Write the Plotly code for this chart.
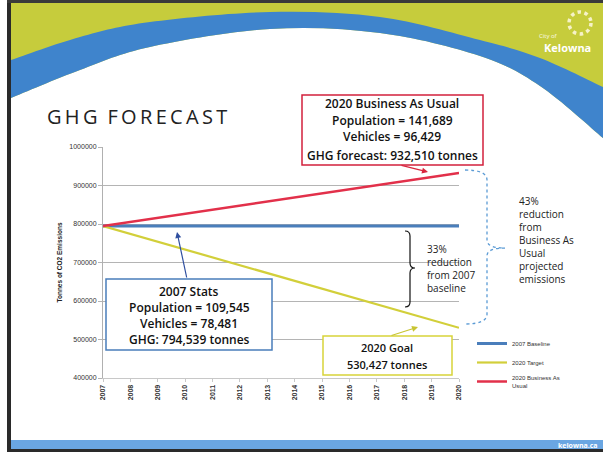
import re
import plotly.graph_objects as go

# ---------------- data ----------------
tick_years = [2007, 2008, 2009, 2010, 2011, 2012, 2013, 2014, 2015, 2016, 2017, 2018, 2019, 2020]
y_ticks = [400000, 500000, 600000, 700000, 800000, 900000, 1000000]
line_years = [2007, 2020]
baseline = [794539, 794539]
target = [794539, 530427]
bau = [794539, 932510]
series_names = ["2007 Baseline", "2020 Target", "2020 Business As<br>Usual"]
series_colors = ["#4a7ebb", "#d2cf3a", "#e2304a"]

bau_box = ["2020 Business As Usual", "Population = 141,689", "Vehicles = 96,429",
           "GHG forecast: 932,510 tonnes"]
stats_box = ["2007 Stats", "Population = 109,545", "Vehicles = 78,481", "GHG: 794,539 tonnes"]
goal_box = ["2020 Goal", "530,427 tonnes"]
brace33 = "33%<br>reduction<br>from 2007<br>baseline"
brace43 = "43%<br>reduction<br>from<br>Business As<br>Usual<br>projected<br>emissions"

# ---------------- geometry helpers ----------------
W_IMG, H_IMG = 603, 452
ML, MR, MT, MB = 103, 144, 147, 74
PW = W_IMG - ML - MR
PH = H_IMG - MT - MB


def px(x):
    return (x - ML) / PW


def py(y):
    return (H_IMG - MB - y) / PH


def conv(path):
    return re.sub(r'(-?\d+\.?\d*),(-?\d+\.?\d*)',
                  lambda m: f"{px(float(m[1])):.5f},{py(float(m[2])):.5f}", path)


def spline(pts, start=True):
    s = f"M {pts[0][0]},{pts[0][1]} " if start else f"L {pts[0][0]},{pts[0][1]} "
    n = len(pts)
    for i in range(n - 1):
        p0 = pts[i - 1] if i > 0 else pts[i]
        p1 = pts[i]
        p2 = pts[i + 1]
        p3 = pts[i + 2] if i + 2 < n else pts[i + 1]
        c1 = (p1[0] + (p2[0] - p0[0]) / 6, p1[1] + (p2[1] - p0[1]) / 6)
        c2 = (p2[0] - (p3[0] - p1[0]) / 6, p2[1] - (p3[1] - p1[1]) / 6)
        s += f"C {c1[0]:.2f},{c1[1]:.2f} {c2[0]:.2f},{c2[1]:.2f} {p2[0]},{p2[1]} "
    return s


def rect(x0, y0, x1, y1, fill, line_color=None, lw=0, layer="below"):
    return dict(type="rect", xref="paper", yref="paper", x0=px(x0), x1=px(x1),
                y0=py(y1), y1=py(y0), fillcolor=fill, layer=layer,
                line=dict(color=line_color or fill, width=lw))


def txt(x, y, s, size, color="#111", xanchor="center", align="center",
        weight="normal", family="Open Sans"):
    return dict(x=px(x), y=py(y), xref="paper", yref="paper", text=s, showarrow=False,
                xanchor=xanchor, yanchor="middle", align=align,
                font=dict(size=size, color=color, family=family, weight=weight))


def arrow(hx, hy, tx, ty, color, width=1.2):
    return dict(x=px(hx), y=py(hy), xref="paper", yref="paper", text="",
                showarrow=True, ax=tx - hx, ay=ty - hy, axref="pixel", ayref="pixel",
                arrowhead=2, arrowsize=1, arrowwidth=width, arrowcolor=color)


# ---------------- figure ----------------
fig = go.Figure()
for name, ys, col, w in zip(series_names, [baseline, target, bau], series_colors, [3, 2.2, 2.5]):
    fig.add_trace(go.Scatter(x=line_years, y=ys, mode="lines", name=name,
                             legendgroup=name, line=dict(color=col, width=w)))

upper = [(11, 60), (80, 37), (150, 22), (270, 12), (380, 17), (480, 40), (540, 58), (603, 87)]
lower = [(11, 98), (80, 70), (150, 47), (270, 29), (380, 33), (480, 56), (540, 86), (603, 138)]

band_path = spline(upper) + spline(lower[::-1], start=False) + "Z"
white_path = spline(lower) + "L 603,146 L 11,146 Z"

shapes = [
    rect(11, 3, 603, 146, "#c6cc3c"),
    dict(type="path", xref="paper", yref="paper", path=conv(white_path),
         fillcolor="white", line=dict(width=0), layer="below"),
    dict(type="path", xref="paper", yref="paper", path=conv(band_path),
         fillcolor="#3f84cc", line=dict(width=0), layer="below"),
    rect(7, 0, 11, 452, "#2a2a2a"),
    rect(7, 0, 603, 3, "#3a3a3a"),
    rect(11, 440, 603, 449, "#6aa6e2"),
    rect(7, 449, 603, 452, "#2a2a2a"),
    # logo ring
    dict(type="circle", xref="paper", yref="paper", x0=px(569), x1=px(591),
         y0=py(34), y1=py(12), line=dict(color="#f6f2c8", width=3.5, dash="dot"),
         layer="below"),
    # boxes
    rect(302, 95, 483, 165, "white", "#d2203c", 1.5, "above"),
    rect(106, 279, 272, 350, "white", "#4a7ebb", 1.5, "above"),
    rect(323, 336, 452, 375, "white", "#d8d43a", 1.5, "above"),
    # black brace (33%)
    dict(type="path", xref="paper", yref="paper", layer="above",
         path=conv("M 405,231 Q 410,231 410,236 L 410,263 Q 410,268 415,268 "
                   "Q 410,268 410,273 L 410,302 Q 410,307 405,307"),
         line=dict(color="#111", width=1.2)),
    # blue dotted brace (43%)
    dict(type="path", xref="paper", yref="paper", layer="above",
         path=conv("M 465,170 Q 487,170 487,180 L 487,240 Q 487,248 505,248 "
                   "Q 487,248 487,256 L 487,314 Q 487,324 465,324"),
         line=dict(color="#5b9bd5", width=1.3, dash="dot")),
]

annotations = [
    txt(45, 117, "G\u2009H\u2009G\u2002F\u2009O\u2009R\u2009E\u2009C\u2009A\u2009S\u2009T", 20,
        "#222", xanchor="left"),
    txt(548, 36, "City of", 6, "#fbfbe8"),
    txt(567, 47, "Kelowna", 11, "white", weight="bold"),
    txt(578, 445, "kelowna.ca", 7, "white", weight="bold"),
    txt(425, 268, brace33, 10, "#222", xanchor="left", align="left"),
    txt(517, 240, brace43, 10, "#222", xanchor="left", align="left"),
    arrow(428, 172, 400, 165, "#d9263e"),
    arrow(177, 232, 187, 279, "#2f4f9f"),
    arrow(418, 327, 390, 336, "#c8c432"),
]
for s, yy in zip(bau_box, [103, 120, 137, 155]):
    annotations.append(txt(392, yy, s, 12, "#111", weight=600))
for s, yy in zip(stats_box, [291, 307, 323, 339]):
    annotations.append(txt(189, yy, s, 12, "#111", weight=600))
for s, yy in zip(goal_box, [347, 364]):
    annotations.append(txt(387, yy, s, 11, "#111", weight=600))

fig.update_layout(
    width=W_IMG, height=H_IMG,
    margin=dict(l=ML, r=MR, t=MT, b=MB, pad=0),
    paper_bgcolor="white", plot_bgcolor="rgba(0,0,0,0)",
    showlegend=True,
    legend=dict(x=px(472), y=py(329), xanchor="left", yanchor="top",
                font=dict(size=6, color="#333", family="Liberation Sans"),
                bgcolor="rgba(0,0,0,0)", tracegroupgap=0, itemwidth=30,
                traceorder="grouped"),
    shapes=shapes,
    annotations=annotations,
    xaxis=dict(range=[2007, 2020], tickvals=tick_years, ticktext=[str(y) for y in tick_years],
               tickangle=-90, showgrid=False, showline=True, linecolor="#c8c8c8",
               ticks="outside", ticklen=3, tickcolor="#c8c8c8", zeroline=False,
               tickfont=dict(size=7, color="#333", family="Liberation Sans", weight="bold")),
    yaxis=dict(range=[400000, 1000000], tickvals=y_ticks, tickformat="d",
               showgrid=True, gridcolor="#b4b4b4", gridwidth=1, showline=True,
               linecolor="#b0b0b0", ticks="outside", ticklen=4, tickcolor="#b4b4b4",
               zeroline=False,
               tickfont=dict(size=7, color="#333", family="Liberation Sans"),
               title=dict(text="Tonnes of CO2 Emissions", standoff=6,
                          font=dict(size=6.5, color="#222", family="Liberation Sans",
                                    weight="bold"))),
)

fig.write_html("out.html")
